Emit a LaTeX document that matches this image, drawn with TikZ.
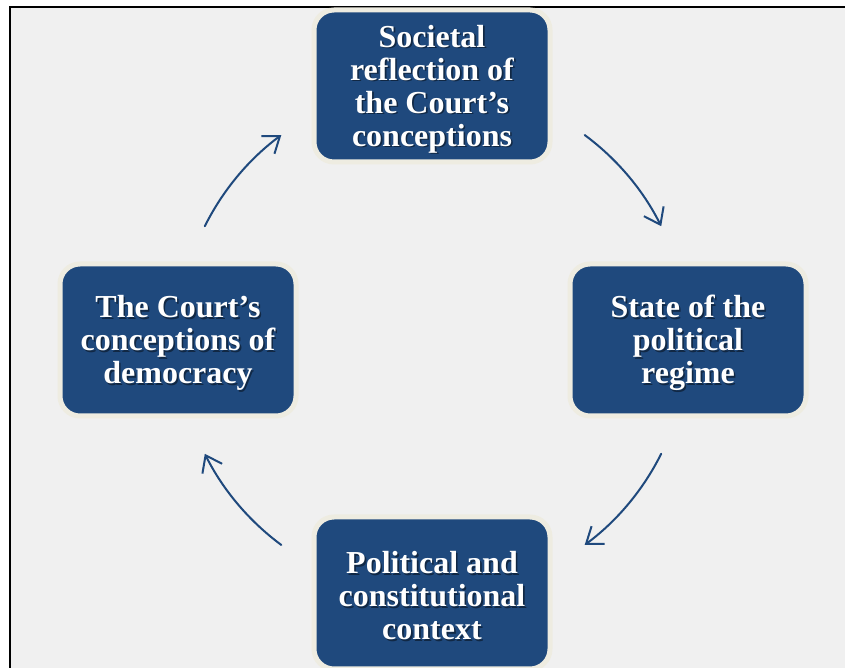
\documentclass[tikz,border=0pt]{standalone}
\usepackage{fontspec}
\setmainfont{Liberation Serif}
\usetikzlibrary{arrows.meta}

\begin{document}
\begin{tikzpicture}
[x=1pt,y=1pt,line cap=round,
% Styles
box/.style={draw=boxedge,line width=5pt,fill=boxcolor,rounded corners=20pt,
  minimum width=236pt,minimum height=152pt,inner sep=0pt},
box text/.style={text=white,align=center,inner sep=0pt,
  font=\bfseries\fontsize{32}{33}\selectfont},
text shadow/.style={box text,text=black,opacity=.45},
cycle arrow/.style={draw=arrowcolor,line width=2pt,
  -{Straight Barb[length=15pt,width=22pt]}}]
% Colors
\definecolor{boxcolor}{RGB}{31,73,125}
\definecolor{boxedge}{RGB}{238,236,225}
\definecolor{arrowcolor}{RGB}{31,73,125}
\definecolor{panel}{RGB}{240,240,240}
% Local definitions
\def\ringradius{255}
% The graphic
\useasboundingbox (0,0) rectangle (845,668);
\clip (0,0) rectangle (845,668);
\fill[white] (0,0) rectangle (845,668);
\draw[fill=panel,line width=2pt] (10,-20) rectangle (880,661);
\coordinate (ring) at (433,328);
% the four boxes
\foreach \name/\x/\y/\txt in
  {soc/432/582/{Societal\\reflection of\\the Court’s\\conceptions},
   state/688/328/{State of the\\political\\regime},
   context/432/75/{Political and\\constitutional\\context},
   court/178/328/{The Court’s\\conceptions of\\democracy}}
{
  \node[box] (\name) at (\x,\y) {};
  \node[text shadow] at ([shift={(1.6,-4.6)}]\name) {\txt};
  \node[box text] (\name text) at ([yshift=-3]\name) {\txt};
}
% arrows round the cycle
\foreach \a in {53.5,-26.5,-126.5,153.5}
  \draw[cycle arrow] ([shift={(\a:\ringradius)}]ring)
    arc[start angle=\a,delta angle=-27,radius=\ringradius];
\end{tikzpicture}
\end{document}
